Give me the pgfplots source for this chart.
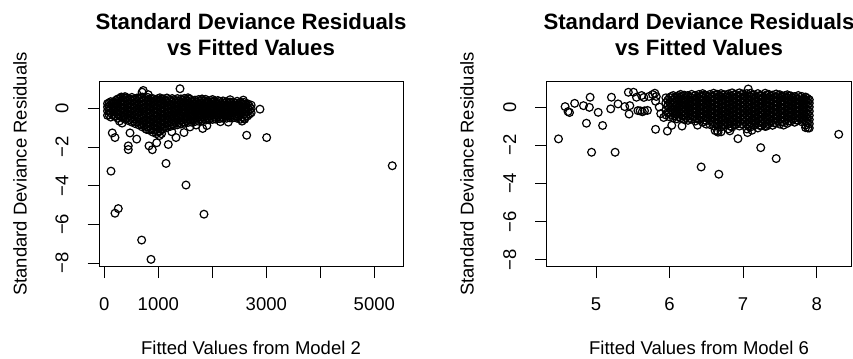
\documentclass[border=0pt]{standalone}
\usepackage{fontspec}
\setmainfont{Liberation Sans}
\usepackage{pgfplots}
\pgfplotsset{compat=1.18}

\newcommand{\labfont}{\fontsize{18.5bp}{22bp}\selectfont}
\newcommand{\titfont}{\fontsize{22.2bp}{26bp}\selectfont\bfseries}

\pgfplotsset{
  rplot/.style={
    scale only axis,
    anchor=south west,
    width=304.5bp, height=185.7bp,
    axis line style={line width=0.8bp},
    tick align=outside,
    major tick length=11.5bp,
    major tick style={line width=0.8bp, black},
    xtick pos=bottom, ytick pos=left,
    tick label style={font=\labfont},
    ytick={-8,-6,-4,-2,0},
    yticklabels={−8,−6,−4,−2,0},
    yticklabel style={xshift=-19bp, rotate=90, anchor=base, inner sep=0pt},
    xticklabel style={yshift=-32bp, anchor=base, inner sep=0pt},
    clip=false,
  },
  resid/.style={only marks, mark=o, mark size=3.9bp,
    mark options={line width=1.2bp, black}, black},
}

\begin{document}
\begin{tikzpicture}[x=1bp,y=1bp]
\useasboundingbox (0,0) rectangle (853,358);

% ---------------- left panel: model 2 ----------------
\begin{axis}[rplot, at={(99bp,91.3bp)},
  xmin=-98, xmax=5541, ymin=-8.19, ymax=1.43,
  xtick={0,1000,2000,3000,4000,5000},
  xticklabels={0,1000,,3000,,5000}]
% main cloud
\addplot[resid] coordinates {
(60,-0.35) (60,-0.12) (60,0.08) (60,0.26)
(120,-0.44) (120,-0.22) (120,0.02) (120,0.2) (120,0.36)
(185,-0.38) (185,-0.15) (185,0.06) (185,0.3)
(250,-0.5) (250,-0.28) (250,-0.06) (250,0.15) (250,0.37) (250,0.5)
(315,-0.42) (315,-0.2) (315,0.0) (315,0.21) (315,0.42) (315,0.6)
(380,-0.55) (380,-0.32) (380,-0.1) (380,0.12) (380,0.33) (380,0.55)
(445,-0.62) (445,-0.4) (445,-0.18) (445,0.04) (445,0.25) (445,0.47)
(510,-0.7) (510,-0.47) (510,-0.25) (510,-0.03) (510,0.19) (510,0.4) (510,0.58)
(575,-0.78) (575,-0.55) (575,-0.33) (575,-0.1) (575,0.12) (575,0.32) (575,0.5)
(640,-0.85) (640,-0.62) (640,-0.4) (640,-0.18) (640,0.05) (640,0.27) (640,0.48)
(705,-0.95) (705,-0.72) (705,-0.48) (705,-0.26) (705,-0.03) (705,0.19) (705,0.4) (705,0.6)
(770,-1.05) (770,-0.82) (770,-0.6) (770,-0.37) (770,-0.15) (770,0.08) (770,0.3) (770,0.52)
(835,-1.12) (835,-0.9) (835,-0.68) (835,-0.45) (835,-0.22) (835,0.0) (835,0.22) (835,0.45)
(900,-1.22) (900,-1.0) (900,-0.78) (900,-0.55) (900,-0.32) (900,-0.1) (900,0.12) (900,0.33) (900,0.52)
(965,-1.3) (965,-1.08) (965,-0.85) (965,-0.62) (965,-0.4) (965,-0.18) (965,0.05) (965,0.26) (965,0.46)
(1030,-1.18) (1030,-0.95) (1030,-0.72) (1030,-0.5) (1030,-0.27) (1030,-0.05) (1030,0.17) (1030,0.38) (1030,0.56)
(1095,-1.05) (1095,-0.82) (1095,-0.6) (1095,-0.38) (1095,-0.15) (1095,0.07) (1095,0.3) (1095,0.5)
(1160,-0.98) (1160,-0.75) (1160,-0.52) (1160,-0.3) (1160,-0.08) (1160,0.15) (1160,0.36) (1160,0.55)
(1225,-0.92) (1225,-0.7) (1225,-0.47) (1225,-0.25) (1225,-0.02) (1225,0.2) (1225,0.42)
(1290,-0.88) (1290,-0.65) (1290,-0.42) (1290,-0.2) (1290,0.03) (1290,0.25) (1290,0.46)
(1355,-0.84) (1355,-0.6) (1355,-0.38) (1355,-0.15) (1355,0.07) (1355,0.3) (1355,0.52)
(1420,-0.8) (1420,-0.57) (1420,-0.35) (1420,-0.12) (1420,0.1) (1420,0.32) (1420,0.5)
(1485,-0.76) (1485,-0.53) (1485,-0.3) (1485,-0.08) (1485,0.14) (1485,0.36) (1485,0.53)
(1550,-0.72) (1550,-0.5) (1550,-0.27) (1550,-0.05) (1550,0.17) (1550,0.38) (1550,0.56)
(1615,-0.7) (1615,-0.47) (1615,-0.25) (1615,-0.02) (1615,0.2) (1615,0.42)
(1680,-0.67) (1680,-0.45) (1680,-0.22) (1680,0.0) (1680,0.22) (1680,0.44)
(1745,-0.65) (1745,-0.42) (1745,-0.2) (1745,0.03) (1745,0.25) (1745,0.47)
(1810,-0.62) (1810,-0.4) (1810,-0.17) (1810,0.05) (1810,0.27) (1810,0.5)
(1875,-0.6) (1875,-0.37) (1875,-0.15) (1875,0.08) (1875,0.3) (1875,0.48)
(1940,-0.58) (1940,-0.35) (1940,-0.12) (1940,0.1) (1940,0.32)
(2005,-0.56) (2005,-0.33) (2005,-0.1) (2005,0.12) (2005,0.34) (2005,0.47)
(2070,-0.55) (2070,-0.32) (2070,-0.1) (2070,0.13) (2070,0.35)
(2135,-0.52) (2135,-0.3) (2135,-0.07) (2135,0.15) (2135,0.38)
(2200,-0.5) (2200,-0.28) (2200,-0.05) (2200,0.17) (2200,0.4)
(2265,-0.5) (2265,-0.27) (2265,-0.04) (2265,0.18) (2265,0.36)
(2330,-0.48) (2330,-0.25) (2330,-0.03) (2330,0.2) (2330,0.34)
(2395,-0.47) (2395,-0.24) (2395,-0.02) (2395,0.2) (2395,0.33)
(2460,-0.5) (2460,-0.27) (2460,-0.04) (2460,0.18) (2460,0.38)
(2525,-0.55) (2525,-0.3) (2525,-0.07) (2525,0.15) (2525,0.34)
(2590,-0.5) (2590,-0.27) (2590,-0.05) (2590,0.17) (2590,0.32)
(2655,-0.38) (2655,-0.15) (2655,0.06) (2655,0.25)
(2720,-0.22) (2720,0.0) (2720,0.18)
};
\addplot[resid] coordinates {
(90,-0.33) (90,-0.1) (90,0.12) (90,0.3)
(152,-0.33) (152,-0.1) (152,0.12) (152,0.32)
(218,-0.4) (218,-0.17) (218,0.05) (218,0.27) (218,0.44)
(282,-0.35) (282,-0.1) (282,0.1) (282,0.32) (282,0.52)
(348,-0.45) (348,-0.22) (348,0.0) (348,0.22) (348,0.44) (348,0.58)
(412,-0.5) (412,-0.28) (412,-0.06) (412,0.16) (412,0.38) (412,0.55)
(478,-0.58) (478,-0.36) (478,-0.14) (478,0.08) (478,0.3) (478,0.5)
(542,-0.65) (542,-0.42) (542,-0.2) (542,0.02) (542,0.24) (542,0.46)
(608,-0.7) (608,-0.48) (608,-0.26) (608,-0.04) (608,0.18) (608,0.4) (608,0.55)
(672,-0.78) (672,-0.55) (672,-0.33) (672,-0.1) (672,0.12) (672,0.34) (672,0.55)
(738,-0.88) (738,-0.65) (738,-0.42) (738,-0.2) (738,0.02) (738,0.24) (738,0.46)
(802,-0.95) (802,-0.72) (802,-0.5) (802,-0.27) (802,-0.05) (802,0.18) (802,0.4) (802,0.58)
(868,-1.05) (868,-0.82) (868,-0.6) (868,-0.37) (868,-0.15) (868,0.08) (868,0.3) (868,0.5)
(932,-1.12) (932,-0.9) (932,-0.68) (932,-0.45) (932,-0.22) (932,0.0) (932,0.22) (932,0.42)
(998,-1.2) (998,-0.98) (998,-0.75) (998,-0.52) (998,-0.3) (998,-0.08) (998,0.15) (998,0.36) (998,0.52)
(1062,-1.08) (1062,-0.85) (1062,-0.62) (1062,-0.4) (1062,-0.17) (1062,0.05) (1062,0.27) (1062,0.47)
(1128,-0.92) (1128,-0.7) (1128,-0.48) (1128,-0.25) (1128,-0.02) (1128,0.2) (1128,0.42)
(1192,-0.85) (1192,-0.62) (1192,-0.4) (1192,-0.18) (1192,0.05) (1192,0.27) (1192,0.47)
(1258,-0.8) (1258,-0.58) (1258,-0.35) (1258,-0.12) (1258,0.1) (1258,0.32) (1258,0.52)
(1322,-0.75) (1322,-0.52) (1322,-0.3) (1322,-0.08) (1322,0.14) (1322,0.36)
(1388,-0.72) (1388,-0.5) (1388,-0.27) (1388,-0.04) (1388,0.18) (1388,0.4)
(1452,-0.68) (1452,-0.45) (1452,-0.22) (1452,0.0) (1452,0.22) (1452,0.43)
(1518,-0.62) (1518,-0.4) (1518,-0.18) (1518,0.04) (1518,0.26) (1518,0.46)
(1582,-0.6) (1582,-0.37) (1582,-0.15) (1582,0.07) (1582,0.29) (1582,0.5)
(1648,-0.57) (1648,-0.35) (1648,-0.12) (1648,0.1) (1648,0.32)
(1712,-0.55) (1712,-0.32) (1712,-0.1) (1712,0.12) (1712,0.34)
(1778,-0.52) (1778,-0.3) (1778,-0.07) (1778,0.15) (1778,0.37)
(1842,-0.5) (1842,-0.27) (1842,-0.05) (1842,0.17) (1842,0.39)
(1908,-0.48) (1908,-0.25) (1908,-0.02) (1908,0.2) (1908,0.4)
(1972,-0.46) (1972,-0.23) (1972,0.0) (1972,0.22) (1972,0.42)
(2038,-0.44) (2038,-0.22) (2038,0.0) (2038,0.22) (2038,0.4)
(2102,-0.42) (2102,-0.2) (2102,0.02) (2102,0.24) (2102,0.42)
(2168,-0.4) (2168,-0.18) (2168,0.04) (2168,0.26)
(2232,-0.38) (2232,-0.16) (2232,0.06) (2232,0.28)
(2298,-0.38) (2298,-0.15) (2298,0.07) (2298,0.27)
(2362,-0.36) (2362,-0.14) (2362,0.08) (2362,0.28)
(2428,-0.38) (2428,-0.15) (2428,0.07) (2428,0.28)
(2492,-0.4) (2492,-0.18) (2492,0.04) (2492,0.26)
(2558,-0.42) (2558,-0.2) (2558,0.03) (2558,0.24)
(2622,-0.38) (2622,-0.16) (2622,0.06) (2622,0.24)
(2688,-0.28) (2688,-0.08) (2688,0.12)
};
% scattered residuals
\addplot[resid] coordinates {
(1402,1.03) (5333,-2.96) (124,-3.24) (1143,-2.84) (1513,-3.96)
(198,-5.42) (259,-5.18) (1846,-5.47) (692,-6.81) (865,-7.81)
(2637,-1.38) (3007,-1.5) (2883,-0.03) (148,-1.26) (198,-1.5)
(444,-1.93) (444,-2.12) (476,-1.26) (600,-1.58) (828,-1.93)
(889,-2.13) (970,-1.77) (1185,-1.86) (1328,-1.5) (1476,-1.24)
(1587,-0.95) (1822,-1.03) (2296,-0.7) (722,0.94) (700,0.85)
(2330,0.46) (2575,0.44) (785,-1.08) (1020,-1.4) (1060,-1.3)
(2150,-0.68) (1900,-0.88) (385,0.62) (815,0.72) (1250,-1.2)
(1700,-0.85) (2550,-0.65) (2600,-0.55) (330,-0.75) (280,-0.65)
};
\end{axis}

% ---------------- right panel: model 6 ----------------
\begin{axis}[rplot, at={(546.7bp,91.3bp)},
  xmin=4.33, xmax=8.47, ymin=-8.36, ymax=1.36,
  xtick={5,6,7,8}, xticklabels={5,6,7,8}]
% main cloud
\addplot[resid] coordinates {
(5.95,-0.42) (5.95,-0.18) (5.95,0.22) (5.95,0.48)
(6.00,-0.52) (6.00,-0.28) (6.00,-0.02) (6.00,0.24) (6.00,0.5)
(6.05,-0.56) (6.05,-0.32) (6.05,-0.1) (6.05,0.14) (6.05,0.38) (6.05,0.6)
(6.10,-0.62) (6.10,-0.38) (6.10,-0.14) (6.10,0.1) (6.10,0.32) (6.10,0.55)
(6.15,-0.58) (6.15,-0.36) (6.15,-0.14) (6.15,0.08) (6.15,0.3) (6.15,0.52) (6.15,0.66)
(6.20,-0.66) (6.20,-0.43) (6.20,-0.2) (6.20,0.02) (6.20,0.24) (6.20,0.46) (6.20,0.62)
(6.25,-0.7) (6.25,-0.48) (6.25,-0.25) (6.25,-0.03) (6.25,0.19) (6.25,0.41) (6.25,0.6)
(6.30,-0.64) (6.30,-0.42) (6.30,-0.2) (6.30,0.03) (6.30,0.25) (6.30,0.47) (6.30,0.66)
(6.35,-0.74) (6.35,-0.5) (6.35,-0.28) (6.35,-0.06) (6.35,0.16) (6.35,0.38) (6.35,0.6)
(6.40,-0.66) (6.40,-0.44) (6.40,-0.22) (6.40,0.0) (6.40,0.22) (6.40,0.44) (6.40,0.66)
(6.45,-0.8) (6.45,-0.56) (6.45,-0.33) (6.45,-0.1) (6.45,0.12) (6.45,0.34) (6.45,0.56) (6.45,0.7)
(6.50,-0.72) (6.50,-0.5) (6.50,-0.27) (6.50,-0.05) (6.50,0.17) (6.50,0.39) (6.50,0.6)
(6.55,-0.92) (6.55,-0.68) (6.55,-0.45) (6.55,-0.22) (6.55,0.0) (6.55,0.22) (6.55,0.44) (6.55,0.66)
(6.60,-1.0) (6.60,-0.78) (6.60,-0.55) (6.60,-0.32) (6.60,-0.1) (6.60,0.12) (6.60,0.34) (6.60,0.56) (6.60,0.72)
(6.65,-1.25) (6.65,-0.9) (6.65,-0.66) (6.65,-0.43) (6.65,-0.2) (6.65,0.02) (6.65,0.24) (6.65,0.46) (6.65,0.66)
(6.70,-1.3) (6.70,-1.05) (6.70,-0.8) (6.70,-0.57) (6.70,-0.34) (6.70,-0.12) (6.70,0.1) (6.70,0.32) (6.70,0.54) (6.70,0.7)
(6.75,-0.95) (6.75,-0.7) (6.75,-0.47) (6.75,-0.24) (6.75,-0.02) (6.75,0.2) (6.75,0.42) (6.75,0.64)
(6.80,-1.15) (6.80,-0.88) (6.80,-0.64) (6.80,-0.41) (6.80,-0.18) (6.80,0.04) (6.80,0.26) (6.80,0.48) (6.80,0.68)
(6.85,-1.05) (6.85,-0.8) (6.85,-0.55) (6.85,-0.32) (6.85,-0.1) (6.85,0.12) (6.85,0.34) (6.85,0.56) (6.85,0.74)
(6.90,-0.92) (6.90,-0.68) (6.90,-0.45) (6.90,-0.22) (6.90,0.0) (6.90,0.22) (6.90,0.44) (6.90,0.66)
(6.95,-1.0) (6.95,-0.78) (6.95,-0.55) (6.95,-0.32) (6.95,-0.1) (6.95,0.12) (6.95,0.34) (6.95,0.56) (6.95,0.74)
(7.00,-0.9) (7.00,-0.66) (7.00,-0.43) (7.00,-0.2) (7.00,0.02) (7.00,0.24) (7.00,0.46) (7.00,0.68)
(7.05,-1.15) (7.05,-0.9) (7.05,-0.66) (7.05,-0.42) (7.05,-0.19) (7.05,0.03) (7.05,0.25) (7.05,0.47) (7.05,0.7)
(7.10,-1.05) (7.10,-0.82) (7.10,-0.58) (7.10,-0.35) (7.10,-0.12) (7.10,0.1) (7.10,0.32) (7.10,0.54) (7.10,0.72)
(7.15,-0.95) (7.15,-0.72) (7.15,-0.48) (7.15,-0.25) (7.15,-0.03) (7.15,0.19) (7.15,0.41) (7.15,0.63)
(7.20,-1.1) (7.20,-0.85) (7.20,-0.62) (7.20,-0.38) (7.20,-0.15) (7.20,0.07) (7.20,0.29) (7.20,0.51) (7.20,0.7)
(7.25,-0.98) (7.25,-0.75) (7.25,-0.52) (7.25,-0.29) (7.25,-0.06) (7.25,0.16) (7.25,0.38) (7.25,0.6)
(7.30,-1.02) (7.30,-0.8) (7.30,-0.56) (7.30,-0.33) (7.30,-0.1) (7.30,0.12) (7.30,0.34) (7.30,0.56) (7.30,0.72)
(7.35,-0.88) (7.35,-0.64) (7.35,-0.41) (7.35,-0.18) (7.35,0.04) (7.35,0.26) (7.35,0.48) (7.35,0.66)
(7.40,-0.96) (7.40,-0.72) (7.40,-0.49) (7.40,-0.26) (7.40,-0.04) (7.40,0.18) (7.40,0.4) (7.40,0.62)
(7.45,-0.84) (7.45,-0.6) (7.45,-0.37) (7.45,-0.14) (7.45,0.08) (7.45,0.3) (7.45,0.52) (7.45,0.68)
(7.50,-0.9) (7.50,-0.66) (7.50,-0.43) (7.50,-0.2) (7.50,0.02) (7.50,0.24) (7.50,0.46) (7.50,0.64)
(7.55,-0.78) (7.55,-0.55) (7.55,-0.32) (7.55,-0.1) (7.55,0.12) (7.55,0.34) (7.55,0.56)
(7.60,-0.86) (7.60,-0.62) (7.60,-0.4) (7.60,-0.17) (7.60,0.05) (7.60,0.27) (7.60,0.49) (7.60,0.64)
(7.65,-0.74) (7.65,-0.52) (7.65,-0.29) (7.65,-0.07) (7.65,0.15) (7.65,0.37) (7.65,0.58)
(7.70,-0.8) (7.70,-0.58) (7.70,-0.35) (7.70,-0.12) (7.70,0.1) (7.70,0.32) (7.70,0.54)
(7.75,-0.7) (7.75,-0.48) (7.75,-0.25) (7.75,-0.03) (7.75,0.19) (7.75,0.41) (7.75,0.6)
(7.80,-0.78) (7.80,-0.55) (7.80,-0.32) (7.80,-0.1) (7.80,0.12) (7.80,0.34) (7.80,0.55)
(7.85,-0.95) (7.85,-0.72) (7.85,-0.5) (7.85,-0.27) (7.85,-0.05) (7.85,0.17) (7.85,0.38) (7.85,0.52)
(7.90,-1.1) (7.90,-0.88) (7.90,-0.66) (7.90,-0.44) (7.90,-0.22) (7.90,0.0) (7.90,0.2) (7.90,0.38)
};
\addplot[resid] coordinates {
(5.975,-0.3) (5.975,0.05) (5.975,0.35)
(6.025,-0.4) (6.025,-0.15) (6.025,0.1) (6.025,0.36) (6.025,0.55)
(6.075,-0.45) (6.075,-0.22) (6.075,0.02) (6.075,0.26) (6.075,0.48)
(6.125,-0.5) (6.125,-0.26) (6.125,-0.02) (6.125,0.2) (6.125,0.43) (6.125,0.6)
(6.175,-0.47) (6.175,-0.25) (6.175,-0.03) (6.175,0.19) (6.175,0.41) (6.175,0.58)
(6.225,-0.55) (6.225,-0.32) (6.225,-0.09) (6.225,0.13) (6.225,0.35) (6.225,0.53)
(6.275,-0.59) (6.275,-0.36) (6.275,-0.14) (6.275,0.08) (6.275,0.3) (6.275,0.52)
(6.325,-0.53) (6.325,-0.31) (6.325,-0.09) (6.325,0.14) (6.325,0.36) (6.325,0.56)
(6.375,-0.62) (6.375,-0.39) (6.375,-0.17) (6.375,0.05) (6.375,0.27) (6.375,0.49)
(6.425,-0.55) (6.425,-0.33) (6.425,-0.11) (6.425,0.11) (6.425,0.33) (6.425,0.55)
(6.475,-0.68) (6.475,-0.45) (6.475,-0.22) (6.475,0.0) (6.475,0.23) (6.475,0.45) (6.475,0.63)
(6.525,-0.6) (6.525,-0.38) (6.525,-0.16) (6.525,0.06) (6.525,0.28) (6.525,0.5)
(6.575,-0.8) (6.575,-0.56) (6.575,-0.33) (6.575,-0.11) (6.575,0.11) (6.575,0.33) (6.575,0.55)
(6.625,-0.88) (6.625,-0.66) (6.625,-0.44) (6.625,-0.21) (6.625,0.01) (6.625,0.23) (6.625,0.45) (6.625,0.64)
(6.675,-1.05) (6.675,-0.78) (6.675,-0.55) (6.675,-0.32) (6.675,-0.09) (6.675,0.13) (6.675,0.35) (6.675,0.56)
(6.725,-0.92) (6.725,-0.68) (6.725,-0.45) (6.725,-0.23) (6.725,0.0) (6.725,0.21) (6.725,0.43) (6.725,0.62)
(6.775,-0.83) (6.775,-0.58) (6.775,-0.36) (6.775,-0.13) (6.775,0.09) (6.775,0.31) (6.775,0.53)
(6.825,-1.0) (6.825,-0.76) (6.825,-0.52) (6.825,-0.3) (6.825,-0.07) (6.825,0.15) (6.825,0.37) (6.825,0.58)
(6.875,-0.93) (6.875,-0.68) (6.875,-0.44) (6.875,-0.21) (6.875,0.01) (6.875,0.23) (6.875,0.45) (6.875,0.64)
(6.925,-0.8) (6.925,-0.56) (6.925,-0.33) (6.925,-0.11) (6.925,0.11) (6.925,0.33) (6.925,0.55)
(6.975,-0.89) (6.975,-0.66) (6.975,-0.43) (6.975,-0.21) (6.975,0.01) (6.975,0.23) (6.975,0.45) (6.975,0.65)
(7.025,-0.78) (7.025,-0.55) (7.025,-0.32) (7.025,-0.09) (7.025,0.13) (7.025,0.35) (7.025,0.57)
(7.075,-1.02) (7.075,-0.78) (7.075,-0.54) (7.075,-0.3) (7.075,-0.08) (7.075,0.14) (7.075,0.36) (7.075,0.58)
(7.125,-0.93) (7.125,-0.7) (7.125,-0.46) (7.125,-0.23) (7.125,-0.01) (7.125,0.21) (7.125,0.43) (7.125,0.62)
(7.175,-0.83) (7.175,-0.6) (7.175,-0.37) (7.175,-0.14) (7.175,0.08) (7.175,0.3) (7.175,0.52)
(7.225,-0.97) (7.225,-0.73) (7.225,-0.5) (7.225,-0.27) (7.225,-0.04) (7.225,0.18) (7.225,0.4) (7.225,0.6)
(7.275,-0.87) (7.275,-0.64) (7.275,-0.4) (7.275,-0.17) (7.275,0.05) (7.275,0.27) (7.275,0.49)
(7.325,-0.91) (7.325,-0.68) (7.325,-0.45) (7.325,-0.22) (7.325,0.01) (7.325,0.23) (7.325,0.45) (7.325,0.64)
(7.375,-0.76) (7.375,-0.52) (7.375,-0.29) (7.375,-0.07) (7.375,0.15) (7.375,0.37) (7.375,0.57)
(7.425,-0.84) (7.425,-0.6) (7.425,-0.37) (7.425,-0.15) (7.425,0.07) (7.425,0.29) (7.425,0.51)
(7.475,-0.72) (7.475,-0.49) (7.475,-0.26) (7.475,-0.03) (7.475,0.19) (7.475,0.41) (7.475,0.6)
(7.525,-0.78) (7.525,-0.55) (7.525,-0.32) (7.525,-0.09) (7.525,0.13) (7.525,0.35) (7.525,0.55)
(7.575,-0.67) (7.575,-0.44) (7.575,-0.21) (7.575,0.01) (7.575,0.23) (7.575,0.45) (7.575,0.6)
(7.625,-0.74) (7.625,-0.51) (7.625,-0.28) (7.625,-0.06) (7.625,0.16) (7.625,0.38) (7.625,0.57)
(7.675,-0.63) (7.675,-0.4) (7.675,-0.18) (7.675,0.04) (7.675,0.26) (7.675,0.48)
(7.725,-0.69) (7.725,-0.46) (7.725,-0.24) (7.725,-0.01) (7.725,0.21) (7.725,0.43)
(7.775,-0.59) (7.775,-0.37) (7.775,-0.14) (7.775,0.08) (7.775,0.3) (7.775,0.5)
(7.825,-0.66) (7.825,-0.44) (7.825,-0.21) (7.825,0.01) (7.825,0.23) (7.825,0.44)
(7.875,-0.83) (7.875,-0.61) (7.875,-0.38) (7.875,-0.16) (7.875,0.06) (7.875,0.27) (7.875,0.45)
};
% scattered residuals
\addplot[resid] coordinates {
(4.49,-1.67) (8.30,-1.43) (4.94,-2.37) (5.26,-2.37) (6.43,-3.14)
(6.67,-3.52) (7.24,-2.13) (7.45,-2.70) (6.93,-1.66) (5.81,-1.17)
(5.97,-1.26) (6.03,-0.96) (6.17,-1.0) (5.09,-0.97) (4.87,-0.85)
(5.03,-0.28) (4.91,-0.02) (4.92,0.51) (4.58,0.02) (4.62,-0.24)
(4.64,-0.29) (4.71,0.19) (4.83,0.07) (5.21,0.51) (5.20,-0.1)
(5.30,0.16) (5.39,0.02) (5.46,0.07) (5.45,-0.37) (5.44,0.77)
(5.51,0.77) (5.55,0.51) (5.57,-0.19) (5.60,-0.2) (5.63,-0.25)
(5.66,-0.2) (5.70,-0.18) (5.62,0.6) (5.65,0.5) (5.72,0.55)
(5.77,0.65) (5.82,0.55) (5.81,0.3) (5.86,0.0) (5.88,-0.35)
(5.92,-0.55) (5.80,0.72) (7.07,0.94) (7.06,-1.34) (7.85,-1.08)
(6.50,-0.9) (6.62,-1.24) (6.66,-1.32) (6.82,-1.25) (7.12,-1.22)
(7.32,-1.0) (6.38,-0.95) (7.55,-0.95) (7.88,-1.1)
};
\end{axis}

% ---------------- titles and axis labels ----------------
\node[font=\titfont, anchor=base] at (251,328.7) {Standard Deviance Residuals};
\node[font=\titfont, anchor=base] at (251,303) {vs Fitted Values};
\node[font=\titfont, anchor=base] at (699,328.7) {Standard Deviance Residuals};
\node[font=\titfont, anchor=base] at (699,303) {vs Fitted Values};
\node[font=\labfont, anchor=base] at (251,3.7) {Fitted Values from Model 2};
\node[font=\labfont, anchor=base] at (699,3.7) {Fitted Values from Model 6};
\node[font=\labfont, anchor=base, rotate=90] at (26.7,184) {Standard Deviance Residuals};
\node[font=\labfont, anchor=base, rotate=90] at (473.7,184) {Standard Deviance Residuals};
\end{tikzpicture}
\end{document}
